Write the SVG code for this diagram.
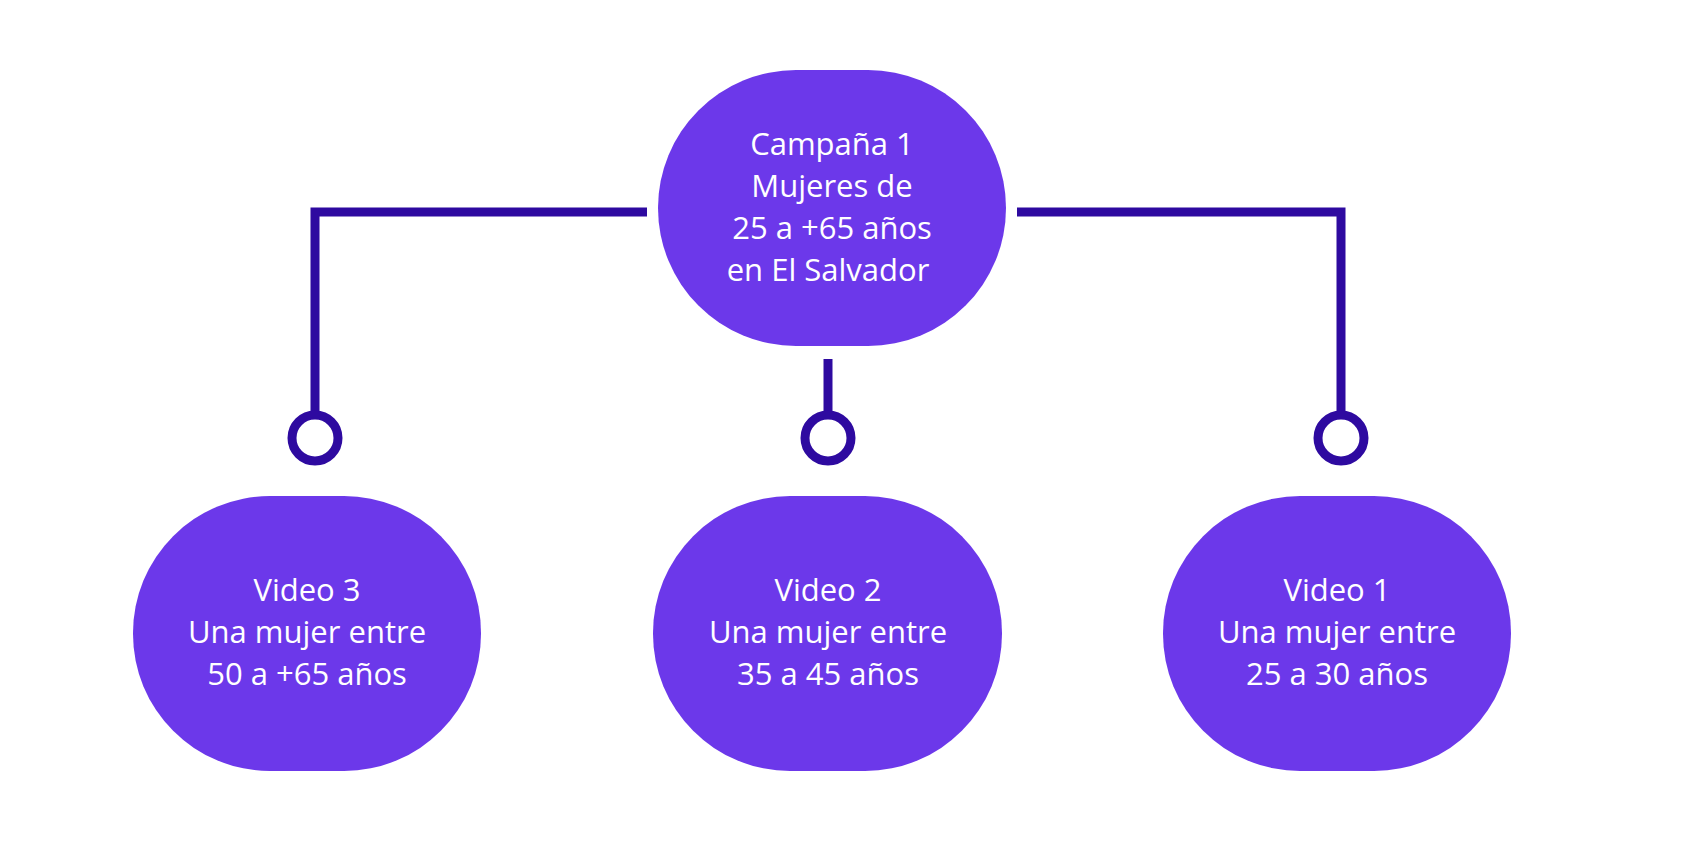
<svg xmlns="http://www.w3.org/2000/svg" width="1696" height="851" viewBox="0 0 1696 851">
<style>
.n{fill:#6C38EA}
.t{font-family:"Open Sans","Liberation Sans",sans-serif;font-size:31px;fill:#fff;text-anchor:middle}
.c{fill:none;stroke:#2E0AA0;stroke-width:9}
.d{fill:#fff;stroke:#2E0AA0;stroke-width:9}
</style>
<rect width="1696" height="851" fill="#fff"/>
<g id="connectors">
<polyline class="c" points="647,212 315,212 315,414"/>
<line class="c" x1="828" y1="359" x2="828" y2="414"/>
<polyline class="c" points="1017,212 1341,212 1341,414"/>
<circle class="d" cx="315" cy="438" r="23"/>
<circle class="d" cx="828" cy="438" r="23"/>
<circle class="d" cx="1341" cy="438" r="23"/>
</g>
<g id="campana">
<rect class="n" x="658" y="70" width="348" height="276" rx="138"/>
<text class="t"><tspan x="832" y="155">Campaña 1</tspan><tspan x="832" y="197">Mujeres de</tspan><tspan x="832" y="239">25 a +65 años</tspan><tspan x="828" y="281">en El Salvador</tspan></text>
</g>
<g id="video3">
<rect class="n" x="133" y="496" width="348" height="275" rx="137"/>
<text class="t"><tspan x="307" y="601">Video 3</tspan><tspan x="307" y="643">Una mujer entre</tspan><tspan x="307" y="685">50 a +65 años</tspan></text>
</g>
<g id="video2">
<rect class="n" x="653" y="496" width="349" height="275" rx="137"/>
<text class="t"><tspan x="828" y="601">Video 2</tspan><tspan x="828" y="643">Una mujer entre</tspan><tspan x="828" y="685">35 a 45 años</tspan></text>
</g>
<g id="video1">
<rect class="n" x="1163" y="496" width="348" height="275" rx="137"/>
<text class="t"><tspan x="1337" y="601">Video 1</tspan><tspan x="1337" y="643">Una mujer entre</tspan><tspan x="1337" y="685">25 a 30 años</tspan></text>
</g>
</svg>
